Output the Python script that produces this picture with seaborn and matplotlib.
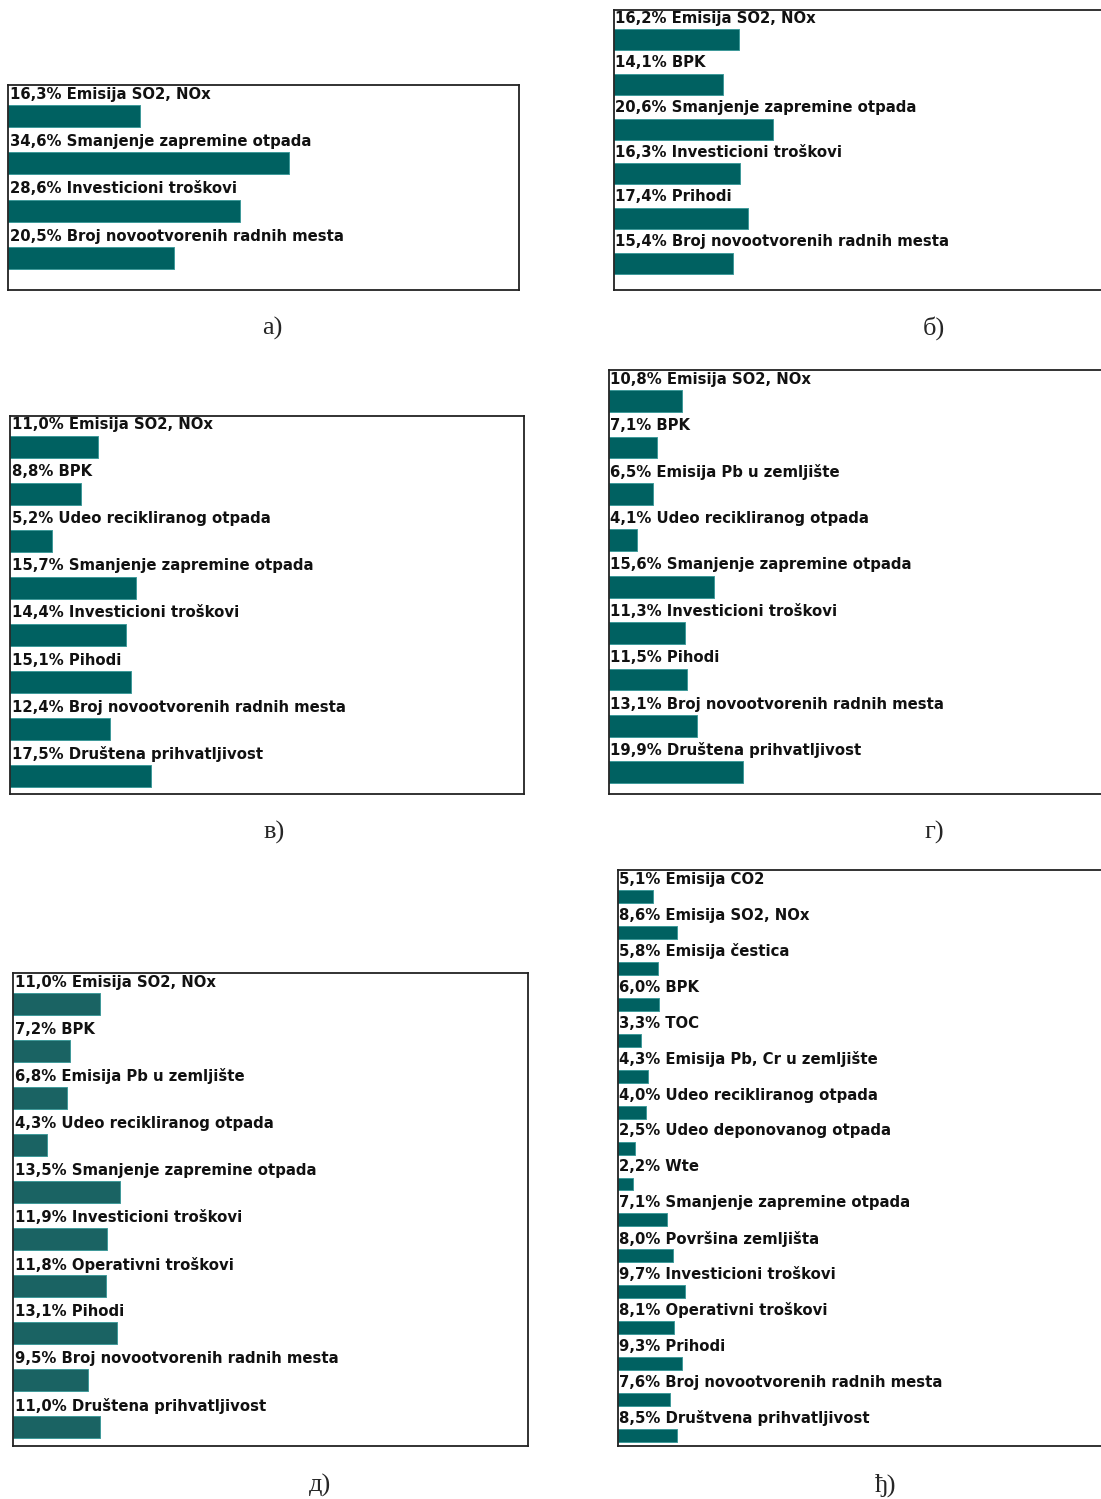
import seaborn as sns
import matplotlib.pyplot as plt
import matplotlib.transforms as mtransforms

# panel data
a_labels = ['Emisija SO2, NOx', 'Smanjenje zapremine otpada', 'Investicioni troškovi',
            'Broj novootvorenih radnih mesta']
a_values = [16.3, 34.6, 28.6, 20.5]

b_labels = ['Emisija SO2, NOx', 'BPK', 'Smanjenje zapremine otpada', 'Investicioni troškovi',
            'Prihodi', 'Broj novootvorenih radnih mesta']
b_values = [16.2, 14.1, 20.6, 16.3, 17.4, 15.4]

v_labels = ['Emisija SO2, NOx', 'BPK', 'Udeo recikliranog otpada', 'Smanjenje zapremine otpada',
            'Investicioni troškovi', 'Pihodi', 'Broj novootvorenih radnih mesta',
            'Društena prihvatljivost']
v_values = [11.0, 8.8, 5.2, 15.7, 14.4, 15.1, 12.4, 17.5]

g_labels = ['Emisija SO2, NOx', 'BPK', 'Emisija Pb u zemljište', 'Udeo recikliranog otpada',
            'Smanjenje zapremine otpada', 'Investicioni troškovi', 'Pihodi',
            'Broj novootvorenih radnih mesta', 'Društena prihvatljivost']
g_values = [10.8, 7.1, 6.5, 4.1, 15.6, 11.3, 11.5, 13.1, 19.9]

d_labels = ['Emisija SO2, NOx', 'BPK', 'Emisija Pb u zemljište', 'Udeo recikliranog otpada',
            'Smanjenje zapremine otpada', 'Investicioni troškovi', 'Operativni troškovi',
            'Pihodi', 'Broj novootvorenih radnih mesta', 'Društena prihvatljivost']
d_values = [11.0, 7.2, 6.8, 4.3, 13.5, 11.9, 11.8, 13.1, 9.5, 11.0]

dj_labels = ['Emisija CO2', 'Emisija SO2, NOx', 'Emisija čestica', 'BPK', 'TOC',
             'Emisija Pb, Cr u zemljište', 'Udeo recikliranog otpada', 'Udeo deponovanog otpada',
             'Wte', 'Smanjenje zapremine otpada', 'Površina zemljišta', 'Investicioni troškovi',
             'Operativni troškovi', 'Prihodi', 'Broj novootvorenih radnih mesta',
             'Društvena prihvatljivost']
dj_values = [5.1, 8.6, 5.8, 6.0, 3.3, 4.3, 4.0, 2.5, 2.2, 7.1, 8.0, 9.7, 8.1, 9.3, 7.6, 8.5]

captions = ['а)', 'б)', 'в)', 'г)', 'д)', 'ђ)']

sns.set_style('white')
plt.rcParams['font.family'] = ['DejaVu Sans']

W, H = 1101, 1499
fig = plt.figure(figsize=(W / 100, H / 100), dpi=100)

# labels, values, box px (left, top, right, bottom), xmax, top pad, bottom pad, bar h, label off, caption xy
panels = [
    (a_labels, a_values, (8, 85, 519, 290), 63.0, 0.65, 0.67, 0.46, 0.46, (272, 328)),
    (b_labels, b_values, (614, 10, 1108, 290), 64.0, 0.67, 0.60, 0.47, 0.49, (934, 328)),
    (v_labels, v_values, (10, 416, 524, 794), 64.0, 0.66, 0.38, 0.47, 0.47, (274, 832)),
    (g_labels, g_values, (609, 370, 1108, 794), 74.0, 0.67, 0.47, 0.47, 0.47, (934, 832)),
    (d_labels, d_values, (13, 973, 528, 1446), 65.0, 0.66, 0.40, 0.47, 0.46, (320, 1485)),
    (dj_labels, dj_values, (618, 870, 1108, 1446), 71.0, 0.75, 0.30, 0.36, 0.48, (886, 1485)),
]

for i, (labels, values, box, xmax, tpad, bpad, bh, off, cap) in enumerate(panels):
    l, t, r, b = box
    ax = fig.add_axes([l / W, 1 - b / H, (r - l) / W, (b - t) / H])
    col = '#1a6363' if i == 4 else '#006161'
    sns.barplot(x=values, y=labels, orient='h', color=col, saturation=1,
                width=bh, edgecolor='#3f9a9a', linewidth=0.7, ax=ax)
    n = len(values)
    ax.set_xlim(0, xmax)
    ax.set_ylim(n - 1 + bpad, -tpad)
    ax.set_xticks([])
    ax.set_yticks([])
    ax.set_xlabel('')
    ax.set_ylabel('')
    for s in ax.spines.values():
        s.set_visible(True)
        s.set_color('#222222')
        s.set_linewidth(1.3)
    trans = mtransforms.blended_transform_factory(ax.transAxes, ax.transData)
    for j, (lab, v) in enumerate(zip(labels, values)):
        txt = f'{v:.1f}%'.replace('.', ',') + ' ' + lab
        ax.text(0.003, j - off, txt, transform=trans, ha='left', va='center',
                fontsize=10.7, fontweight='bold', color='#111111')
    fig.text(cap[0] / W, 1 - cap[1] / H, captions[i], ha='center', va='center',
             fontsize=19, family='Liberation Serif')

fig.savefig('out.png', dpi=100)
